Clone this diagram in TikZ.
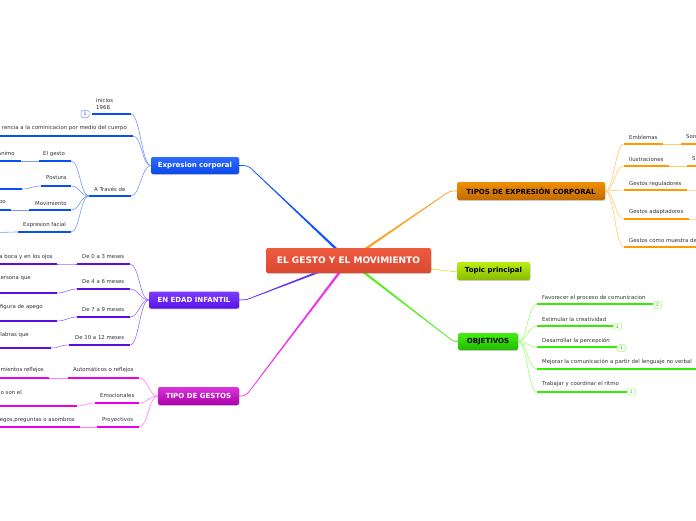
\documentclass[tikz,border=0pt]{standalone}
\usepackage{fontspec}
\setmainfont{DejaVu Sans}
\usetikzlibrary{calc,shadows}
\definecolor{txt}{HTML}{333333}
\definecolor{ulblue}{HTML}{0A4FF0}\definecolor{cnblue}{HTML}{7799FF}
\definecolor{ulpur}{HTML}{5A0EE0}\definecolor{cnpur}{HTML}{9A6BFF}
\definecolor{ulmag}{HTML}{E600E6}\definecolor{cnmag}{HTML}{FF80FF}
\definecolor{ulor}{HTML}{FF9A00}\definecolor{cnor}{HTML}{FFCC70}
\definecolor{ulgr}{HTML}{33EE00}\definecolor{cngr}{HTML}{A0FF70}
\definecolor{brblue}{HTML}{1155FF}\definecolor{bror}{HTML}{FFA020}
\definecolor{bryel}{HTML}{D4F060}\definecolor{brgr}{HTML}{55EE22}
\definecolor{brpur}{HTML}{6A30EE}\definecolor{brmag}{HTML}{EE33EE}
\definecolor{cenT}{HTML}{EE5A3E}\definecolor{cenB}{HTML}{D94830}
\definecolor{ecT}{HTML}{2F6BFF}\definecolor{ecB}{HTML}{0A48E8}
\definecolor{eiT}{HTML}{7B3CFF}\definecolor{eiB}{HTML}{5A12E6}
\definecolor{tgT}{HTML}{DD33DD}\definecolor{tgB}{HTML}{AA00AA}
\definecolor{teT}{HTML}{F09000}\definecolor{teB}{HTML}{C06A00}
\definecolor{tpT}{HTML}{BBEE11}\definecolor{tpB}{HTML}{88BB00}
\definecolor{obT}{HTML}{44EE11}\definecolor{obB}{HTML}{22BB00}
\tikzset{
 lbl/.style={inner sep=0pt, text=txt, font=\fontsize{5.4}{7}\selectfont},
 ul/.style={line width=2pt, line cap=butt},
 conn/.style={line width=0.6pt},
 topic/.style={rounded corners=2pt, inner sep=0pt, text=white,
   font=\fontsize{7}{8}\selectfont\bfseries,
   drop shadow={opacity=0.35,shadow xshift=0.6pt,shadow yshift=-0.9pt}},
 badge/.style={draw, rounded corners=1.5pt, fill=white, minimum width=8pt,
   minimum height=7pt, inner sep=0pt, line width=0.5pt,
   font=\fontsize{4.5}{5}\selectfont},
}
\newcommand\ulin[5]{\coordinate (#1-l) at (#3,#5);\coordinate (#1-r) at (#4,#5);\draw[ul,#2] (#1-l) -- (#1-r);}
\newcommand\fanL[3]{\draw[conn,#3] (#1) .. controls +(-9,0) and +(9,0) .. (#2);}
\newcommand\fanR[3]{\draw[conn,#3] (#1) .. controls +(9,0) and +(-9,0) .. (#2);}
\newcommand\taper[3]{\fill[#3] ($(#1)!1.3pt!90:(#2)$) -- ($(#2)!0.35pt!-90:(#1)$) -- ($(#2)!0.35pt!90:(#1)$) -- ($(#1)!1.3pt!-90:(#2)$) -- cycle;}
\begin{document}
\begin{tikzpicture}[x=1pt,y=-1pt]
\useasboundingbox (0,0) rectangle (696,520);
\clip (0,0) rectangle (696,520);
\fill[white] (0,0) rectangle (696,520);
% main branches
\coordinate (cc) at (348.5,260.5);
\coordinate (bEl) at (250,167.5);
\coordinate (oEl) at (447,193);
\coordinate (yEl) at (450,271);
\coordinate (gEl) at (451,339.5);
\coordinate (pEl) at (247,299.5);
\coordinate (mEl) at (248,393);
\taper{cc}{bEl}{brblue}
\taper{cc}{oEl}{bror}
\taper{cc}{yEl}{bryel}
\taper{cc}{gEl}{brgr}
\taper{cc}{pEl}{brpur}
\taper{cc}{mEl}{brmag}
% topic boxes
\node[topic, top color=cenT, bottom color=cenB, minimum width=165pt, minimum height=25pt, font=\fontsize{9}{10}\selectfont\bfseries] (cen) at (348.5,260.5) {EL GESTO Y EL MOVIMIENTO};
\node[topic, top color=ecT, bottom color=ecB, minimum width=88pt, minimum height=17pt] (ec) at (195,165.5) {Expresion corporal};
\node[topic, top color=eiT, bottom color=eiB, minimum width=90pt, minimum height=17pt] (ei) at (194,300) {EN EDAD INFANTIL};
\node[topic, top color=tgT, bottom color=tgB, minimum width=81pt, minimum height=18pt] (tg) at (198.5,396) {TIPO DE GESTOS};
\node[topic, text=black, top color=teT, bottom color=teB, minimum width=148pt, minimum height=18pt] (te) at (531,191) {TIPOS DE EXPRESIÓN CORPORAL};
\node[topic, text=black, top color=tpT, bottom color=tpB, minimum width=73pt, minimum height=18pt] (tp) at (493.5,271) {Topic principal};
\node[topic, text=black, top color=obT, bottom color=obB, minimum width=60pt, minimum height=17pt] (ob) at (488,341.5) {OBJETIVOS};
% short ends of main branches
\draw[line width=0.7pt, brblue] (bEl) .. controls (246,165.5) .. (ec.east);
\draw[line width=0.7pt, bror] (oEl) .. controls (451,191) .. (te.west);
\draw[line width=0.7pt, bryel] (yEl) -- (tp.west);
\draw[line width=0.7pt, brgr] (gEl) .. controls (454,341.5) .. (ob.west);
\draw[line width=0.7pt, brpur] (pEl) .. controls (243,300) .. (ei.east);
\draw[line width=0.7pt, brmag] (mEl) .. controls (244,396) .. (tg.east);

% ===== Expresion corporal =====
\ulin{i}{ulblue}{92}{131}{114}
\node[lbl, anchor=west, align=left] (ti) at (96,103.5) {inicios\\1968};
\node[badge, draw=cnblue, text=ulblue] (bi) at (85,114) {1};
\ulin{r}{ulblue}{-5}{133}{136}
\node[lbl, anchor=east] (tr) at (127,128) {rencia a la cominicacion por medio del cuerpo};
\ulin{a}{ulblue}{89}{131}{196}
\node[lbl, anchor=west] (ta) at (94,189) {A Través de};
\fanL{ec.west}{i-r}{cnblue}
\fanL{ec.west}{r-r}{cnblue}
\fanL{ec.west}{a-r}{cnblue}
\ulin{g}{ulblue}{39}{71}{161}
\node[lbl, anchor=west] (tgs) at (43,154) {El gesto};
\ulin{gg}{ulblue}{-5}{21}{161}
\node[lbl, anchor=east] (tgg) at (15,153) {Ánimo};
\ulin{p}{ulblue}{41}{71}{186}
\node[lbl, anchor=west] (tps) at (46,178) {Postura};
\ulin{pg}{ulblue}{-5}{22}{189}
\ulin{m}{ulblue}{29}{71}{210}
\node[lbl, anchor=west] (tms) at (35,203) {Movimiento};
\ulin{mg}{ulblue}{-5}{11}{210}
\node[lbl, anchor=east] (tmg) at (6,203) {po};
\ulin{f}{ulblue}{18}{71}{232}
\node[lbl, anchor=west] (tfs) at (23,225) {Expresion facial};
\coordinate (fg-r) at (-5,232.5);
\fanL{a-l}{g-r}{cnblue}
\fanL{a-l}{p-r}{cnblue}
\fanL{a-l}{m-r}{cnblue}
\fanL{a-l}{f-r}{cnblue}
\fanL{g-l}{gg-r}{cnblue}
\fanL{p-l}{pg-r}{cnblue}
\fanL{m-l}{mg-r}{cnblue}
\fanL{f-l}{fg-r}{cnblue}

% ===== EN EDAD INFANTIL =====
\ulin{d1}{ulpur}{77}{130}{264}
\node[lbl, anchor=west] (td1) at (82,257) {De 0 a 3 meses};
\ulin{d1g}{ulpur}{-5}{57}{264}
\node[lbl, anchor=east] (td1g) at (53,257) {a boca y en los ojos};
\ulin{d2}{ulpur}{77}{130}{289}
\node[lbl, anchor=west] (td2) at (82,282) {De 4 a 6 meses};
\ulin{d2g}{ulpur}{-5}{57}{293}
\node[lbl, anchor=east] (td2g) at (31,279) {ersona que};
\ulin{d3}{ulpur}{77}{130}{317}
\node[lbl, anchor=west] (td3) at (82,310) {De 7 a 9 meses};
\ulin{d3g}{ulpur}{-5}{57}{321}
\node[lbl, anchor=east] (td3g) at (43,307) {figura de apego};
\ulin{d4}{ulpur}{69}{130}{345}
\node[lbl, anchor=west] (td4) at (75,338) {De 10 a 12 meses};
\ulin{d4g}{ulpur}{-5}{51}{348}
\node[lbl, anchor=east] (td4g) at (29,335) {labras que};
\fanL{ei.west}{d1-r}{cnpur}
\fanL{ei.west}{d2-r}{cnpur}
\fanL{ei.west}{d3-r}{cnpur}
\fanL{ei.west}{d4-r}{cnpur}
\fanL{d1-l}{d1g-r}{cnpur}
\fanL{d2-l}{d2g-r}{cnpur}
\fanL{d3-l}{d3g-r}{cnpur}
\fanL{d4-l}{d4g-r}{cnpur}

% ===== TIPO DE GESTOS =====
\ulin{t1}{ulmag}{68}{139}{378}
\node[lbl, anchor=west] (tt1) at (73,370) {Automáticos o reflejos};
\ulin{t1g}{ulmag}{-5}{49}{378}
\node[lbl, anchor=east] (tt1g) at (44,370) {mientos reflejos};
\ulin{t2}{ulmag}{95}{139}{403}
\node[lbl, anchor=west] (tt2) at (100,395) {Emocionales};
\ulin{t2g}{ulmag}{-5}{77}{406}
\node[lbl, anchor=east] (tt2g) at (22,392) {o son el};
\ulin{t3}{ulmag}{97}{139}{427}
\node[lbl, anchor=west] (tt3) at (102,420) {Proyectivos};
\ulin{t3g}{ulmag}{-5}{80}{427}
\node[lbl, anchor=east] (tt3g) at (75,420) {egos,preguntas o asombros};
\fanL{tg.west}{t1-r}{cnmag}
\fanL{tg.west}{t2-r}{cnmag}
\fanL{tg.west}{t3-r}{cnmag}
\fanL{t1-l}{t1g-r}{cnmag}
\fanL{t2-l}{t2g-r}{cnmag}
\fanL{t3-l}{t3g-r}{cnmag}

% ===== TIPOS DE EXPRESION CORPORAL =====
\ulin{e1}{ulor}{624}{663}{144}
\node[lbl, anchor=west] (te1) at (629,137) {Emblemas};
\ulin{e1g}{ulor}{681}{701}{144}
\node[lbl, anchor=west] (te1g) at (686,137) {Son};
\ulin{e2}{ulor}{624}{669}{166}
\node[lbl, anchor=west] (te2) at (629,159) {Ilustraciones};
\ulin{e2g}{ulor}{687}{701}{166}
\node[lbl, anchor=west] (te2g) at (692,159) {S};
\ulin{e3}{ulor}{624}{687}{190}
\node[lbl, anchor=west] (te3) at (629,184) {Gestos reguladores};
\coordinate (e3g-l) at (701,190);
\ulin{e4}{ulor}{624}{689}{219}
\node[lbl, anchor=west] (te4) at (629,212) {Gestos adaptadores};
\coordinate (e4g-l) at (701,219);
\ulin{e5}{ulor}{624}{701}{247}
\node[lbl, anchor=west] (te5) at (629,240) {Gestos como muestra de};
\fanR{te.east}{e1-l}{cnor}
\fanR{te.east}{e2-l}{cnor}
\fanR{te.east}{e3-l}{cnor}
\fanR{te.east}{e4-l}{cnor}
\fanR{te.east}{e5-l}{cnor}
\fanR{e1-r}{e1g-l}{cnor}
\fanR{e2-r}{e2g-l}{cnor}
\fanR{e3-r}{e3g-l}{cnor}
\fanR{e4-r}{e4g-l}{cnor}

% ===== OBJETIVOS =====
\ulin{o1}{ulgr}{537}{653}{304}
\node[lbl, anchor=west] (to1) at (542,298) {Favorecer el proceso de comunicacion};
\node[badge, draw=cngr, text=ulgr!80!black] (b1) at (657.5,305) {2};
\ulin{o2}{ulgr}{537}{613}{326}
\node[lbl, anchor=west] (to2) at (542,319) {Estimular la creatividad};
\node[badge, draw=cngr, text=ulgr!80!black] (b2) at (617.5,326.5) {2};
\ulin{o3}{ulgr}{537}{617}{347}
\node[lbl, anchor=west] (to3) at (542,341) {Desarrollar la percepción};
\node[badge, draw=cngr, text=ulgr!80!black] (b3) at (621.5,348) {1};
\ulin{o4}{ulgr}{537}{701}{369}
\node[lbl, anchor=west] (to4) at (542,362) {Mejorar la comunicación a partir del lenguaje no verbal};
\ulin{o5}{ulgr}{537}{627}{392}
\node[lbl, anchor=west] (to5) at (542,384) {Trabajar y coordinar el ritmo};
\node[badge, draw=cngr, text=ulgr!80!black] (b5) at (631.5,391.5) {1};
\fanR{ob.east}{o1-l}{cngr}
\fanR{ob.east}{o2-l}{cngr}
\fanR{ob.east}{o3-l}{cngr}
\fanR{ob.east}{o4-l}{cngr}
\fanR{ob.east}{o5-l}{cngr}
\end{tikzpicture}
\end{document}
